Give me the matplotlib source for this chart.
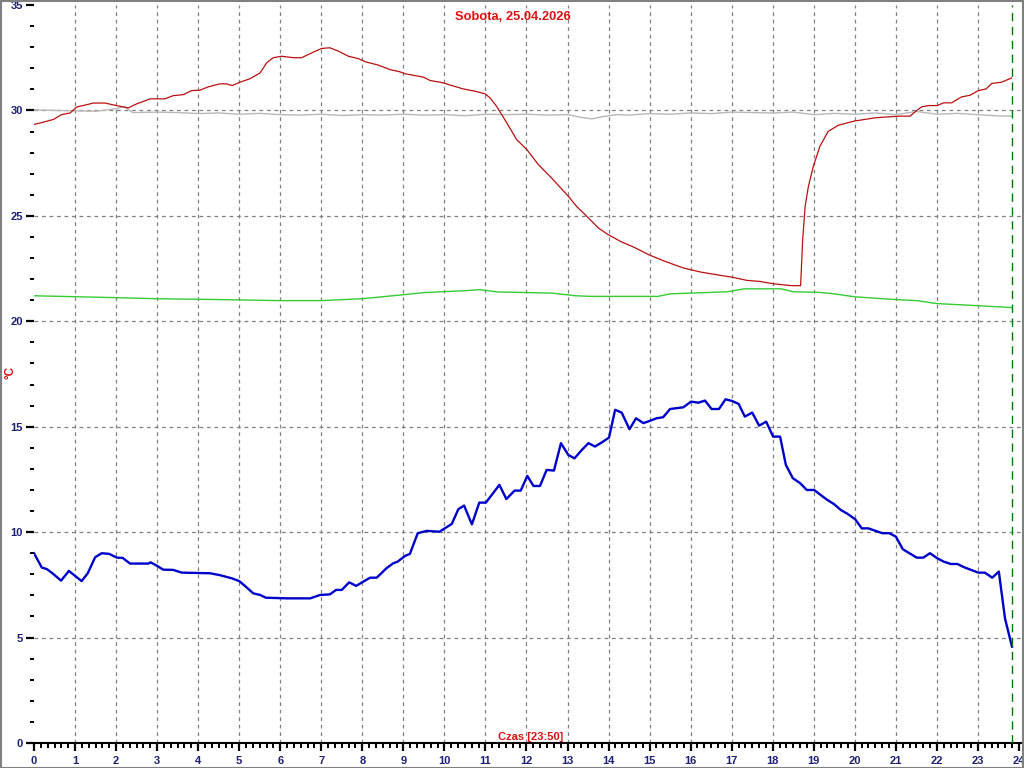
import matplotlib
matplotlib.use("Agg")
import matplotlib.pyplot as plt
from matplotlib.patches import Rectangle
from matplotlib.ticker import MultipleLocator

# ---------------- data ----------------
title = "Sobota, 25.04.2026"
xlabel = "Czas [23:50]"
ylabel = "°C"
now_hour = 23 + 50 / 60

blue_h = [0.0, 0.19, 0.31, 0.43, 0.66, 0.85, 1.16, 1.31, 1.49, 1.65, 1.83, 2.02, 2.16, 2.34, 2.79,
          2.84, 2.99, 3.15, 3.39, 3.60, 4.29, 4.53, 4.82, 5.00, 5.14, 5.34, 5.51, 5.65, 6.16, 6.73,
          6.97, 7.21, 7.36, 7.50, 7.68, 7.85, 8.02, 8.19, 8.35, 8.59, 8.75, 8.86, 9.04, 9.16, 9.35,
          9.57, 9.88, 10.01, 10.18, 10.34, 10.48, 10.67, 10.85, 11.01, 11.34, 11.51, 11.71, 11.86,
          12.02, 12.17, 12.33, 12.49, 12.67, 12.84, 13.02, 13.17, 13.35, 13.51, 13.67, 13.83, 14.01,
          14.16, 14.32, 14.51, 14.67, 14.85, 15.01, 15.17, 15.33, 15.50, 15.66, 15.82, 16.01, 16.19,
          16.35, 16.51, 16.69, 16.85, 17.01, 17.17, 17.32, 17.50, 17.67, 17.84, 18.01, 18.18, 18.32,
          18.49, 18.67, 18.83, 19.01, 19.17, 19.33, 19.50, 19.66, 19.83, 20.01, 20.17, 20.33, 20.49,
          20.67, 20.84, 21.00, 21.17, 21.33, 21.51, 21.67, 21.83, 22.01, 22.17, 22.34, 22.50, 22.67,
          22.83, 23.01, 23.17, 23.35, 23.51, 23.66, 23.83]
blue_v = [9.0, 8.32, 8.25, 8.08, 7.70, 8.16, 7.68, 8.05, 8.81, 9.0, 8.97, 8.79, 8.78, 8.51, 8.51,
          8.57, 8.41, 8.22, 8.21, 8.08, 8.05, 7.96, 7.81, 7.68, 7.45, 7.10, 7.02, 6.89, 6.86, 6.86,
          7.02, 7.05, 7.26, 7.26, 7.62, 7.45, 7.65, 7.84, 7.84, 8.29, 8.52, 8.60, 8.87, 8.97, 9.95,
          10.06, 10.02, 10.18, 10.39, 11.09, 11.26, 10.37, 11.40, 11.40, 12.24, 11.57, 11.97, 11.97,
          12.67, 12.19, 12.19, 12.95, 12.92, 14.22, 13.66, 13.50, 13.90, 14.22, 14.06, 14.25, 14.48,
          15.80, 15.67, 14.88, 15.40, 15.17, 15.28, 15.40, 15.45, 15.84, 15.88, 15.92, 16.19, 16.14,
          16.24, 15.84, 15.84, 16.30, 16.22, 16.08, 15.48, 15.67, 15.05, 15.24, 14.53, 14.53, 13.19,
          12.56, 12.32, 12.00, 12.00, 11.76, 11.53, 11.32, 11.05, 10.86, 10.61, 10.18, 10.18, 10.07,
          9.95, 9.95, 9.79, 9.19, 9.00, 8.79, 8.79, 9.00, 8.76, 8.60, 8.49, 8.49, 8.33,
          8.21, 8.08, 8.08, 7.84, 8.13, 5.91, 4.57]

red_h = [0.0, 0.47, 0.67, 0.88, 1.04, 1.45, 1.73, 2.01, 2.30, 2.50, 2.83, 3.19, 3.39, 3.64, 3.84,
         4.04, 4.25, 4.53, 4.69, 4.83, 5.02, 5.26, 5.51, 5.67, 5.83, 6.03, 6.32, 6.52, 6.77, 7.01,
         7.21, 7.42, 7.66, 7.90, 8.07, 8.39, 8.67, 8.92, 9.04, 9.49, 9.65, 9.97, 10.18, 10.46, 10.75,
         10.99, 11.11, 11.27, 11.52, 11.76, 12.01, 12.29, 12.61, 13.02, 13.22, 13.47, 13.75, 13.99,
         14.32, 14.60, 15.01, 15.42, 15.82, 16.23, 16.63, 17.04, 17.37, 17.69, 18.01, 18.46, 18.68,
         18.73, 18.79, 18.87, 18.99, 19.15, 19.35, 19.6, 20.0, 20.5, 20.85, 21.10, 21.35, 21.51,
         21.63, 21.79, 22.01, 22.16, 22.36, 22.60, 22.81, 23.01, 23.20, 23.34, 23.58, 23.82]
red_v = [29.33, 29.57, 29.80, 29.88, 30.16, 30.35, 30.35, 30.23, 30.12, 30.31, 30.55, 30.55, 30.70,
         30.75, 30.94, 30.96, 31.12, 31.26, 31.26, 31.18, 31.34, 31.50, 31.78, 32.26, 32.50, 32.57,
         32.50, 32.50, 32.73, 32.94, 32.97, 32.81, 32.57, 32.46, 32.31, 32.15, 31.94, 31.83, 31.74,
         31.58, 31.42, 31.31, 31.18, 31.02, 30.91, 30.79, 30.60, 30.20, 29.41, 28.62, 28.14, 27.43,
         26.80, 25.93, 25.45, 24.98, 24.43, 24.11, 23.76, 23.53, 23.13, 22.81, 22.53, 22.34, 22.21,
         22.08, 21.94, 21.89, 21.78, 21.69, 21.69, 23.87, 25.45, 26.40, 27.35, 28.30, 29.0, 29.3,
         29.5, 29.65, 29.7, 29.73, 29.73, 30.0, 30.17, 30.23, 30.23, 30.36, 30.36, 30.64, 30.72,
         30.94, 31.02, 31.28, 31.34, 31.54]

gray_h = [0, 0.5, 1, 1.5, 2, 2.2, 2.4, 3, 3.5, 4, 4.5, 5, 5.5, 6, 6.5, 7, 7.5, 8, 8.5, 9, 9.5, 10,
          10.5, 11, 11.5, 12, 12.5, 13, 13.3, 13.6, 13.9, 14.2, 14.5, 15, 15.5, 16, 16.5, 17, 17.5,
          18, 18.5, 19, 19.5, 20, 20.5, 21, 21.5, 22, 22.5, 23, 23.5, 23.83]
gray_v = [30.03, 30.0, 29.98, 29.96, 30.08, 30.18, 29.9, 29.92, 29.9, 29.85, 29.88, 29.82, 29.86,
          29.8, 29.78, 29.82, 29.76, 29.8, 29.78, 29.82, 29.78, 29.8, 29.75, 29.82, 29.8, 29.82,
          29.78, 29.8, 29.68, 29.6, 29.72, 29.8, 29.78, 29.85, 29.82, 29.88, 29.85, 29.92, 29.9,
          29.88, 29.92, 29.8, 29.86, 29.82, 29.88, 29.8, 29.95, 29.82, 29.86, 29.8, 29.74, 29.73]

green_h = [0, 2, 3, 4.5, 6, 7, 8, 9, 9.5, 10.5, 10.87, 11.3, 12.6, 13.2, 13.6, 15.2, 15.5, 16.9,
           17.3, 18.2, 18.5, 19.15, 19.5, 20, 21, 21.5, 22, 23, 23.83]
green_v = [21.21, 21.12, 21.07, 21.03, 20.98, 20.98, 21.07, 21.26, 21.36, 21.45, 21.5, 21.39, 21.34,
           21.21, 21.18, 21.18, 21.3, 21.4, 21.54, 21.54, 21.4, 21.37, 21.3, 21.16, 21.03, 20.98,
           20.84, 20.74, 20.65]

# ---------------- figure ----------------
W, H = 1024, 768
fig = plt.figure(figsize=(W / 100, H / 100), dpi=100)
ax = fig.add_axes([34 / W, 25 / H, 987 / W, 738 / H])
ax.set_xlim(0, 24.05)
ax.set_ylim(0, 35)

navy = "#1E1E78"
for s in ["left", "top", "right"]:
    ax.spines[s].set_visible(False)
ax.spines["bottom"].set_color("black")
ax.spines["bottom"].set_linewidth(1.5)

# grid
for h in range(1, 24):
    ax.axvline(h, color="#808080", lw=0.9, ls=(0, (3, 3)), zorder=1)
for v in range(5, 35, 5):
    ax.axhline(v, color="#808080", lw=0.9, ls=(0, (3, 3)), zorder=1)

ax.plot(gray_h, gray_v, color="#B8B8B8", lw=1.0, zorder=2)
ax.plot(green_h, green_v, color="#33CC33", lw=1.0, zorder=2)
ax.plot(red_h, red_v, color="#BB1010", lw=0.9, zorder=3)
ax.plot(blue_h, blue_v, color="#0000CC", lw=1.7, zorder=4)

ax.axvline(now_hour, color="#007700", lw=1.0, ls=(0, (6, 4)), zorder=5)

ax.xaxis.set_major_locator(MultipleLocator(1))
ax.xaxis.set_minor_locator(MultipleLocator(1 / 6))
ax.yaxis.set_major_locator(MultipleLocator(5))
ax.yaxis.set_minor_locator(MultipleLocator(1))
ax.set_xticks(range(0, 25))
ax.tick_params(axis="x", which="major", length=6, width=1.6, color="black", pad=3,
               labelsize=8, labelcolor=navy)
ax.tick_params(axis="x", which="minor", length=3.5, width=1.4, color="black")
ax.tick_params(axis="y", which="major", length=6, width=1.6, color="black", pad=2,
               labelsize=8, labelcolor=navy)
ax.tick_params(axis="y", which="minor", length=3, width=1.4, color="black")
for lab in ax.get_xticklabels() + ax.get_yticklabels():
    lab.set_fontweight("bold")
    lab.set_family("Liberation Sans")

fig.text(513 / W, 1 - 17 / H, title, color="#DD1111", fontsize=9.3, fontweight="bold",
         family="Liberation Sans", ha="center", va="center")
fig.text(531 / W, 1 - 737 / H, xlabel, color="#DD1111", fontsize=8, fontweight="bold",
         family="Liberation Sans", ha="center", va="center")
fig.text(11 / W, 1 - 372 / H, ylabel, color="#DD1111", fontsize=8.5, fontweight="bold",
         family="Liberation Sans", ha="center", va="center", rotation=90)

fig.patches.append(Rectangle((0.5 / W, 0.5 / H), 1 - 1.5 / W, 1 - 1.5 / H, transform=fig.transFigure,
                             fill=False, edgecolor="#808080", lw=1.5))

fig.savefig("out.png", dpi=100)
